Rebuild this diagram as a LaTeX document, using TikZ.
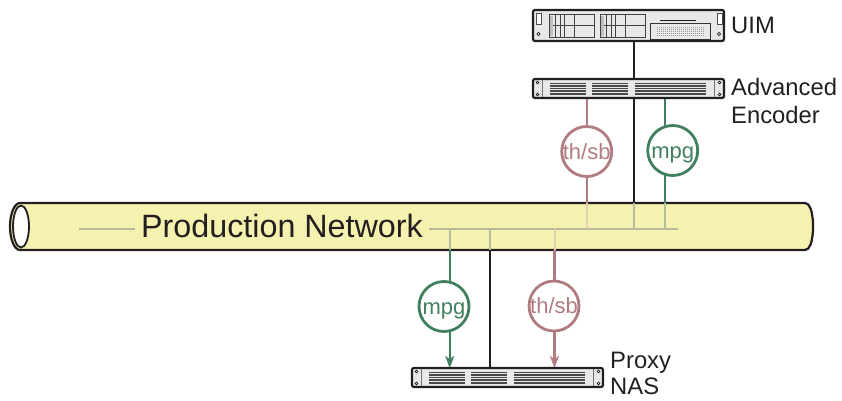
\documentclass[tikz,border=0pt]{standalone}
\usepackage{fontspec}
\setmainfont{Liberation Sans}
\usetikzlibrary{positioning,arrows.meta,backgrounds}

\definecolor{inkdark}{HTML}{231F20}
\definecolor{pipeyellow}{HTML}{F5F1AE}
\definecolor{thsbred}{HTML}{B07C80}
\definecolor{mpggreen}{HTML}{41805F}
\definecolor{busgrey}{HTML}{B6B99E}
\definecolor{thsbpale}{HTML}{E2CFB4}
\definecolor{mpgpale}{HTML}{AFC09C}
\definecolor{rackgrey}{HTML}{E8E8E8}

\tikzset{
    rack/.style={rectangle, draw=inkdark, fill=rackgrey, line width=2.2, rounded corners=2, anchor=north west, minimum width=191, inner sep=0, outer sep=0},
    streamcircle/.style={circle, draw=#1, text=#1, fill=white, line width=2.8, minimum size=50, inner sep=0, text height=15, text depth=0, font=\fontsize{22}{26}\selectfont},
    devlabel/.style={inner sep=0, align=left, text=inkdark, font=\fontsize{23.8}{28.6}\selectfont},
    blackline/.style={draw=inkdark, line width=2.2},
    streamline/.style={draw=#1, line width=2.2},
    arrowline/.style={draw=#1, line width=2.2, -{Stealth[length=12,width=9,inset=3]}},
    busline/.style={draw=#1, line width=2},
}

\newcommand{\slimrack}[3]{
    \node (#1) [rack, minimum height=19] at (#2, #3) {};
    \begin{scope}[shift={(#2, #3)}]
        \foreach \gx/\gw in {17/36, 59/36, 102/71} {
            \fill[black!72] (\gx, 3.5) rectangle (\gx+\gw, 16);
            \foreach \gy in {5.8, 8.3, 10.8, 13.3} {
                \draw[rackgrey, line width=0.8] (\gx, \gy) -- (\gx+\gw, \gy);
            }
        }
        \draw[black!55, line width=0.8] (9.5, 1) -- (9.5, 18) (181.5, 1) -- (181.5, 18);
        \foreach \sx in {4.5, 186.5} {
            \foreach \sy in {3.5, 15.5} {
                \draw[inkdark, fill=white, line width=0.7] (\sx, \sy) circle (1.4);
            }
        }
    \end{scope}
}

\newcommand{\widerack}[3]{
    \node (#1) [rack, minimum height=31] at (#2, #3) {};
    \begin{scope}[shift={(#2, #3)}]
        \foreach \bx in {16, 67} {
            \draw[black!75, line width=0.8] (\bx, 4.5) rectangle (\bx+45, 27);
            \draw[black!75, line width=0.8] (\bx, 15.5) -- (\bx+45, 15.5);
            \foreach \lx in {6.5, 11, 15, 25} {
                \draw[black!75, line width=0.8] (\bx+\lx, 4.5) -- (\bx+\lx, 27);
            }
            \fill[black!25] (\bx+1, 5.5) rectangle (\bx+4, 26);
        }
        \draw[black!80, line width=0.9] (117, 13.5) rectangle (177, 29);
        \draw[inkdark, line width=0.9] (127, 10) -- (163, 10);
        \foreach \vy in {17.5, 19.5, 21.5, 23.5, 25.5} {
            \draw[black!40, line width=1.1, dash pattern=on 1 off 1] (124, \vy) -- (172, \vy);
        }
        \draw[black!70, fill=white, line width=0.8] (3, 3) rectangle (8, 14);
        \draw[black!70, fill=white, line width=0.8] (184, 3) rectangle (189, 14);
        \draw[inkdark, fill=white, line width=0.8] (5.5, 24) circle (1.6);
        \draw[inkdark, fill=white, line width=0.8] (186, 24) circle (1.6);
    \end{scope}
}

\begin{document}
\begin{tikzpicture}[x=1pt, y=-1pt]
    \useasboundingbox (0, 0) rectangle (842, 400);

    \widerack{uim}{533}{10}
    \slimrack{encoder}{533}{79}
    \slimrack{proxy}{412}{368}

    \node (uimlabel) [devlabel, right=7pt of uim] {UIM};
    \node (encoderlabel) [devlabel, right=7pt of encoder, yshift=-12.5pt] {Advanced\\Encoder};
    \node (proxylabel) [devlabel, right=7pt of proxy, yshift=4pt] {Proxy\\[-3pt]NAS};

    \node (network) [rectangle, minimum width=803, minimum height=47, inner sep=0, outer sep=0] at (411.5, 226.5) {};
    \node (netlabel) [inner sep=6, text=inkdark, font=\fontsize{32.3}{38}\selectfont] at (282, 225.5) {Production Network};

    \node (thsbtop) [streamcircle=thsbred] at (586.7, 151.5) {th/sb};
    \node (mpgtop) [streamcircle=mpggreen] at (672.7, 150.5) {mpg};
    \node (mpgbottom) [streamcircle=mpggreen] at (444, 306.5) {mpg};
    \node (thsbbottom) [streamcircle=thsbred] at (554, 306) {th/sb};

    \coordinate (buswest) at (79, 228.5);
    \coordinate (buseast) at (678, 228.5);
    \coordinate (tapthsbtop) at (587, 228.5);
    \coordinate (tapblacktop) at (633.7, 228.5);
    \coordinate (tapmpgtop) at (665, 228.5);
    \coordinate (tapmpgbottom) at (449.7, 228.5);
    \coordinate (tapblackbottom) at (490.3, 228.5);
    \coordinate (tapthsbbottom) at (554.5, 228.5);

    \begin{scope}[on background layer]
        \draw[inkdark, fill=pipeyellow, line width=2.2] (20, 203) -- (805, 203) to[out=0, in=-90] (813, 226.5) to[out=90, in=0] (805, 250) -- (20, 250) arc[start angle=90, end angle=270, x radius=10, y radius=23.5] -- cycle;
        \draw[inkdark, fill=white, line width=1.8] (21, 226.5) ellipse [x radius=8, y radius=21];

        \draw[busline=busgrey] (buswest) -- (netlabel.west |- buswest);
        \draw[busline=busgrey] (netlabel.east |- buseast) -- (buseast);

        \draw[blackline] (uim.south -| tapblacktop) -- (encoder.north -| tapblacktop);
        \draw[blackline] (encoder.south -| tapblacktop) -- (network.north -| tapblacktop);
        \draw[busline=busgrey] (network.north -| tapblacktop) -- (tapblacktop);
        \draw[blackline] (network.south -| tapblackbottom) -- (proxy.north -| tapblackbottom);
        \draw[busline=busgrey] (network.south -| tapblackbottom) -- (tapblackbottom);

        \draw[streamline=thsbred] (encoder.south -| tapthsbtop) -- (network.north -| tapthsbtop);
        \draw[busline=thsbpale] (network.north -| tapthsbtop) -- (tapthsbtop);
        \draw[streamline=mpggreen] (encoder.south -| tapmpgtop) -- (network.north -| tapmpgtop);
        \draw[busline=mpgpale] (network.north -| tapmpgtop) -- (tapmpgtop);

        \draw[busline=mpgpale] (tapmpgbottom) -- (network.south -| tapmpgbottom);
        \draw[arrowline=mpggreen] (network.south -| tapmpgbottom) -- (proxy.north -| tapmpgbottom);
        \draw[busline=thsbpale] (tapthsbbottom) -- (network.south -| tapthsbbottom);
        \draw[arrowline=thsbred] (network.south -| tapthsbbottom) -- (proxy.north -| tapthsbbottom);
    \end{scope}
\end{tikzpicture}
\end{document}
